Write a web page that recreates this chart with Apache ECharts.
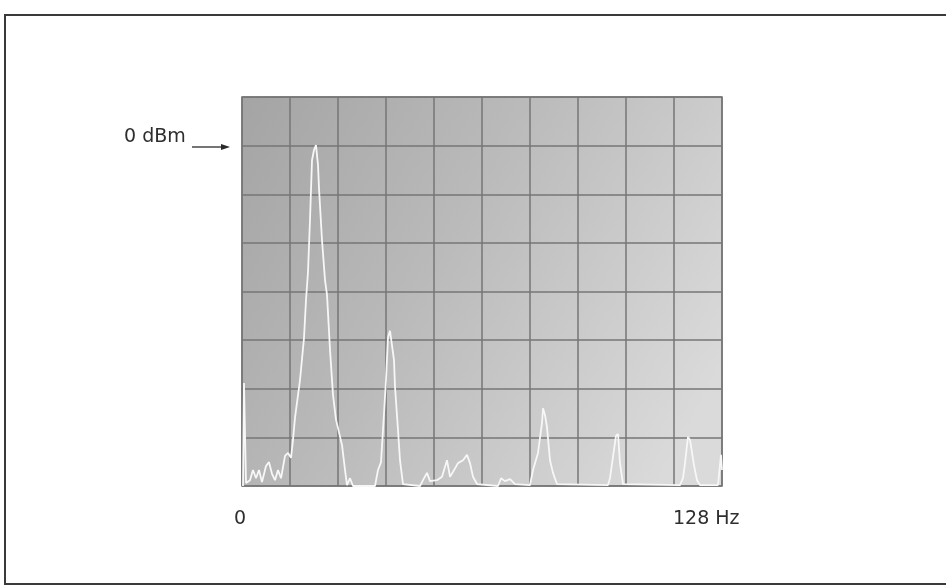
<!DOCTYPE html>
<html>
<head>
<meta charset="utf-8">
<script src="https://cdn.jsdelivr.net/npm/echarts@6/dist/echarts.min.js"></script>
<style>html,body{margin:0;padding:0;background:#fff;}#chart{width:946px;height:586px;}</style>
</head>
<body>
<div id="chart"></div>
<script>
// Frequency (Hz) of each trace point
const freqHz = [0.27,0.53,1.07,2.13,2.93,3.73,4.53,5.33,6.4,7.2,8.0,8.8,9.6,10.4,11.47,12.27,13.07,13.6,14.13,15.47,16.53,17.07,17.6,18.13,18.67,19.2,19.73,20.27,20.53,21.33,22.13,22.67,23.47,24.27,25.07,25.6,26.67,27.47,28.0,28.8,29.6,35.47,36.27,37.07,37.6,38.4,38.93,39.47,40.0,40.53,40.8,41.6,42.13,42.93,47.47,48.27,49.33,50.13,52.0,53.33,54.67,55.47,56.27,57.6,58.93,60.0,60.8,61.6,62.67,68.27,69.07,70.13,71.47,72.8,76.8,77.6,78.93,80.0,80.27,80.8,81.33,82.13,82.93,84.0,97.6,98.13,98.93,99.73,100.27,100.8,101.6,116.8,117.6,118.13,118.93,119.47,120.0,120.53,121.33,122.13,126.93,127.73,128];
// Level (dBm) of each trace point
const levelDbm = [-70,-48.8,-69.4,-68.8,-66.7,-68.4,-66.7,-69.2,-65.9,-65.1,-67.5,-68.8,-66.7,-68.4,-63.8,-63.2,-64.2,-60.5,-56.0,-48.2,-39.6,-31.7,-26.0,-15.3,-3.0,-0.9,0.1,-4.0,-8.7,-19.4,-27.6,-30.7,-42.0,-51.3,-56.4,-58.1,-61.6,-66.7,-69.8,-68.4,-70,-70,-66.7,-65.1,-58.5,-48.2,-39.4,-38.1,-37.7,-44.1,-49.6,-58.5,-64.7,-69.6,-70,-68.8,-67.3,-69.0,-68.8,-68.1,-64.7,-68.1,-67.1,-65.3,-64.7,-63.6,-65.3,-68.1,-69.6,-70,-68.4,-69.0,-68.6,-69.6,-69.8,-66.7,-63.2,-57.0,-54.0,-55.4,-57.9,-64.7,-67.3,-69.6,-69.8,-68.4,-64.0,-59.7,-59.3,-65.3,-69.6,-69.8,-68.4,-65.3,-59.9,-60.5,-60.1,-65.7,-68.8,-69.8,-69.8,-63.6,-66.7];
// Axis range and labels
const freqRange = [0, 128];
const levelRange = [-70, 10];
const refLabel = '0 dBm';
const startLabel = '0';
const endLabel = '128 Hz';

const trace = freqHz.map((f, i) => [f, levelDbm[i]]);
const chart = echarts.init(document.getElementById('chart'), null, {renderer: 'canvas'});
const gridColor = '#767676';
const textFont = {fontFamily: 'DejaVu Sans', fontSize: 19, fill: '#2e2e2e'};

chart.setOption({
  backgroundColor: '#ffffff',
  animation: false,
  grid: {
    left: 242, right: 224, top: 97, bottom: 100,
    show: true,
    borderColor: gridColor, borderWidth: 1.5,
    backgroundColor: {
      type: 'linear', x: 0, y: 0, x2: 1, y2: 0.7,
      colorStops: [
        {offset: 0, color: '#a4a4a4'},
        {offset: 0.45, color: '#bababa'},
        {offset: 1, color: '#dadada'}
      ]
    }
  },
  xAxis: {
    type: 'value', min: freqRange[0], max: freqRange[1], interval: 12.8,
    axisLine: {show: false}, axisTick: {show: false}, axisLabel: {show: false},
    splitLine: {show: true, lineStyle: {color: gridColor, width: 1.5}}
  },
  yAxis: {
    type: 'value', min: levelRange[0], max: levelRange[1], interval: 10,
    axisLine: {show: false}, axisTick: {show: false}, axisLabel: {show: false},
    splitLine: {show: true, lineStyle: {color: gridColor, width: 1.5}}
  },
  series: [{
    type: 'line',
    data: trace,
    showSymbol: false,
    smooth: false,
    clip: true,
    lineStyle: {color: '#f7f7f7', width: 1.8}
  }],
  graphic: [
    {type: 'rect', shape: {x: 5, y: 15, width: 960, height: 569},
     style: {fill: 'none', stroke: '#3a3a3a', lineWidth: 2}, silent: true},
    {type: 'text', left: 124, top: 128, style: Object.assign({text: refLabel}, textFont)},
    {type: 'line', shape: {x1: 192, y1: 147, x2: 224, y2: 147},
     style: {stroke: '#2a2a2a', lineWidth: 1.3}},
    {type: 'polygon', shape: {points: [[230, 147], [221, 144], [221, 150]]},
     style: {fill: '#2a2a2a'}},
    {type: 'text', left: 234, top: 510, style: Object.assign({text: startLabel}, textFont)},
    {type: 'text', left: 673, top: 510, style: Object.assign({text: endLabel}, textFont)}
  ]
});
</script>
</body>
</html>
